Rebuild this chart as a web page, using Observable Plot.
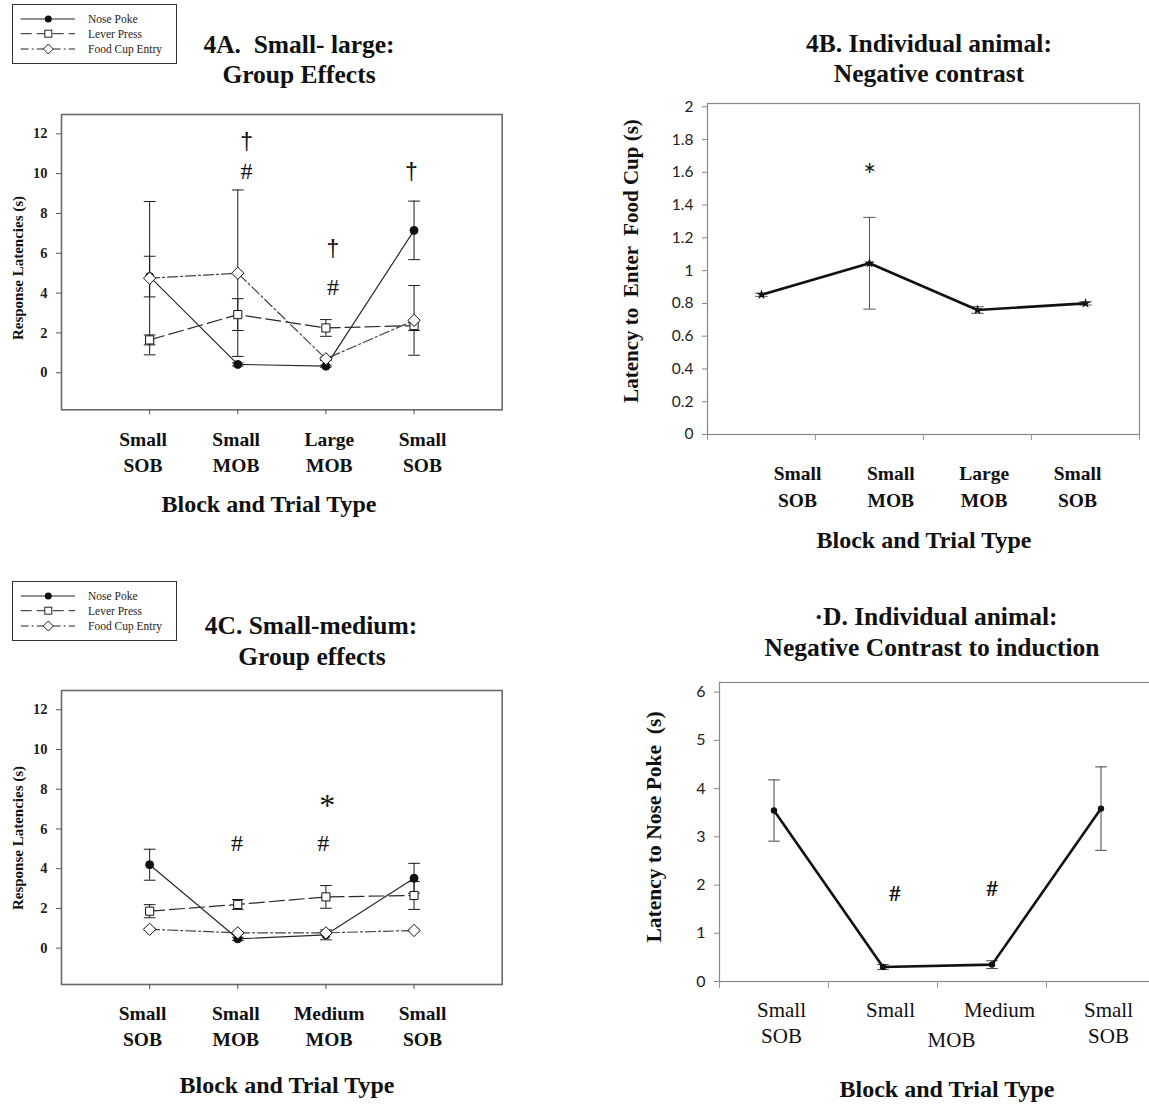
<!DOCTYPE html>
<html>
<head>
<meta charset="utf-8">
<script src="https://cdn.jsdelivr.net/npm/d3@7"></script>
<script src="https://cdn.jsdelivr.net/npm/@observablehq/plot@0.6"></script>
<style>
  html, body { margin: 0; padding: 0; background: #fff; }
  #page { position: relative; width: 1149px; height: 1104px; overflow: hidden; background: #fff; }
  .t { position: absolute; transform: translate(-50%, -50%); white-space: pre; line-height: 1;
       font-family: "Liberation Serif", "Times New Roman", serif; font-weight: bold; color: #111; }
  .yl { position: absolute; transform: translate(-50%, -50%) rotate(-90deg); white-space: pre; line-height: 1;
        font-family: "Liberation Serif", "Times New Roman", serif; font-weight: bold; color: #111; }
</style>
</head>
<body>
<div id="page"></div>
<script>
// ---------------- DATA ----------------
const cats = [1, 2, 3, 4];

// Panel 4A: Small-large, group effects
const aLabels = ["Small\nSOB", "Small\nMOB", "Large\nMOB", "Small\nSOB"];
const aNose = [4.83, 0.42, 0.33, 7.15];
const aNoseSE = [1.02, 0.08, 0.05, 1.47];
const aLever = [1.65, 2.92, 2.25, 2.37];
const aLeverSE = [0.25, 0.80, 0.42, 0.25];
const aFood = [4.75, 5.00, 0.70, 2.63];
const aFoodSE = [3.85, 4.18, 0.08, 1.75];
const aSigText = ["†", "#", "†", "#", "†"];
const aSigX = [2.1, 2.1, 3.08, 3.08, 3.97];
const aSigY = [11.6, 10.1, 6.25, 4.3, 10.1];

// Panel 4B: Individual animal, negative contrast (food cup latency)
const bLabels = ["Small\nSOB", "Small\nMOB", "Large\nMOB", "Small\nSOB"];
const bVals = [0.853, 1.045, 0.76, 0.80];
const bSE = [0.01, 0.28, 0.02, 0.01];
const bTicks = [0, 0.2, 0.4, 0.6, 0.8, 1, 1.2, 1.4, 1.6, 1.8, 2];
const bSigText = ["*"];
const bSigX = [2];
const bSigY = [1.575];

// Panel 4C: Small-medium, group effects
const cLabels = ["Small\nSOB", "Small\nMOB", "Medium\nMOB", "Small\nSOB"];
const cNose = [4.20, 0.47, 0.67, 3.52];
const cNoseSE = [0.78, 0.08, 0.25, 0.75];
const cLever = [1.86, 2.20, 2.58, 2.65];
const cLeverSE = [0.33, 0.25, 0.57, 0.70];
const cFood = [0.95, 0.77, 0.77, 0.89];
const cFoodSE = [0.05, 0.05, 0.05, 0.05];
const cSigText = ["#", "#", "*"];
const cSigX = [1.99, 2.97, 3.015];
const cSigY = [5.26, 5.26, 7.15];

// Panel 4D: Individual animal, negative contrast to induction (nose poke latency)
const dLabels = ["Small\nSOB", "Small", "Medium", "Small\nSOB"];
const dShared = "MOB";
const dVals = [3.545, 0.30, 0.35, 3.585];
const dSE = [0.635, 0.05, 0.08, 0.865];
const dTicks = [0, 1, 2, 3, 4, 5, 6];
const dSigText = ["#", "#"];
const dSigX = [2.11, 3.0];
const dSigY = [1.82, 1.92];

const groupTicks = [0, 2, 4, 6, 8, 10, 12];
const seriesNames = ["Nose Poke", "Lever Press", "Food Cup Entry"];

// ---------------- HELPERS ----------------
const serif = '"Liberation Serif", "Times New Roman", serif';
const sans = 'Lato, "Liberation Sans", sans-serif';
const page = document.getElementById("page");

const capSym = { draw(ctx, size) { const w = Math.sqrt(size) / 2; ctx.moveTo(-w, 0); ctx.lineTo(w, 0); } };
const diamondSym = { draw(ctx, size) { const h = Math.sqrt(size) * 0.62; ctx.moveTo(0, -h); ctx.lineTo(h, 0); ctx.lineTo(0, h); ctx.lineTo(-h, 0); ctx.closePath(); } };

function put(el, left, top) {
  el.style.position = "absolute";
  el.style.left = left + "px";
  el.style.top = top + "px";
  el.style.maxWidth = "none";
  el.style.overflow = "visible";
  page.appendChild(el);
}
function label(cls, str, x, y, size, weight) {
  const d = document.createElement("div");
  d.className = cls;
  d.textContent = str;
  d.style.left = x + "px";
  d.style.top = y + "px";
  d.style.fontSize = size + "px";
  if (weight) d.style.fontWeight = weight;
  page.appendChild(d);
}
// category label row (the figure's labels are laid out on their own, evenly spaced row)
function labelRow(labels, left, width, firstX, lastX, axisY, pad, fontSize, lineHeight) {
  const p = Plot.plot({
    width, height: 100, marginTop: 10, marginBottom: 89,
    marginLeft: firstX - left, marginRight: left + width - lastX,
    x: { domain: [cats[0], cats[cats.length - 1]] },
    style: { background: "transparent", overflow: "visible" },
    marks: [Plot.axisX({ ticks: cats, tickSize: 0, tickPadding: pad, tickFormat: i => labels[i - 1], label: null,
      fontSize, fontWeight: "bold", fontFamily: serif, lineHeight, fill: "#111" })]
  });
  put(p, left, axisY - 11);
}

const seriesStyle = [
  { symbol: "circle", r: 4, fill: "#111", dash: null },
  { symbol: "square", r: 4.6, fill: "#fff", dash: "15,5" },
  { symbol: diamondSym, r: 5.6, fill: "#fff", dash: "10,3,2,3" }
];

function groupPanel(o) {
  const vals = [o.nose, o.lever, o.food];
  const ses = [o.noseSE, o.leverSE, o.foodSE];
  const rows = [];
  vals.forEach((v, k) => v.forEach((y, i) => rows.push({ k, x: cats[i], y, lo: y - ses[k][i], hi: y + ses[k][i] })));
  const caps = rows.flatMap(r => [{ x: r.x, y: r.lo }, { x: r.x, y: r.hi }]);
  const sig = o.sigText.map((t, i) => ({ t, x: o.sigX[i], y: o.sigY[i] }));
  const marks = [
    Plot.frame({ stroke: "#6a6a6a", strokeWidth: 1.6 }),
    Plot.axisY({ ticks: groupTicks, tickSize: 5, tickPadding: 9, label: null, tickFormat: d => String(d), fontSize: 14.5, fontWeight: "bold", fontFamily: serif, stroke: "#555", fill: "#222" }),
    Plot.axisX({ ticks: cats, tickSize: 5, tickFormat: () => "", label: null, stroke: "#555" }),
    Plot.ruleX(rows, { x: "x", y1: "lo", y2: "hi", stroke: "#1a1a1a", strokeWidth: 1 }),
    Plot.dot(caps, { x: "x", y: "y", symbol: capSym, r: 6.6, fill: "none", stroke: "#1a1a1a", strokeWidth: 1 })
  ];
  vals.forEach((v, k) => marks.push(Plot.line(rows.filter(r => r.k === k), {
    x: "x", y: "y", stroke: k === 2 ? "#4a3f3f" : "#2a2a2a", strokeWidth: 1.2, strokeDasharray: seriesStyle[k].dash
  })));
  vals.forEach((v, k) => marks.push(Plot.dot(rows.filter(r => r.k === k), {
    x: "x", y: "y", symbol: seriesStyle[k].symbol, r: seriesStyle[k].r, fill: seriesStyle[k].fill, stroke: "#111", strokeWidth: 1
  })));
  marks.push(Plot.text(sig.filter(s => s.t === "#"), { x: "x", y: "y", text: "t", fontSize: 24, fontFamily: serif, fill: "#111" }));
  marks.push(Plot.text(sig.filter(s => s.t === "†"), { x: "x", y: "y", text: "t", fontSize: 23, fontFamily: '"Liberation Sans", sans-serif', fill: "#111" }));
  marks.push(Plot.text(sig.filter(s => s.t === "*"), { x: "x", y: "y", text: "t", fontSize: 32, fontFamily: serif, fill: "#111" }));
  return Plot.plot({
    width: 512, height: o.h,
    marginLeft: 61, marginRight: 10.3, marginTop: 14, marginBottom: 20,
    x: { domain: [0, 5] },
    y: { domain: o.yDomain },
    style: { background: "transparent", overflow: "visible", fontFamily: serif },
    marks
  });
}

function legend(left, top) {
  const svg = d3.create("svg").attr("width", 168).attr("height", 62);
  svg.append("rect").attr("x", 0.5).attr("y", 0.5).attr("width", 164).attr("height", 59)
    .attr("fill", "#fff").attr("stroke", "#333").attr("stroke-width", 1);
  const rowsY = [15, 29.7, 45];
  const lx1 = 8.7, lx2 = 63, mx = 36.3, tx = 76;
  seriesNames.forEach((name, k) => {
    const y = rowsY[k];
    svg.append("line").attr("x1", lx1).attr("x2", lx2).attr("y1", y).attr("y2", y)
      .attr("stroke", "#222").attr("stroke-width", 1)
      .attr("stroke-dasharray", k === 1 ? "11,5" : k === 2 ? "8,3,2,3" : null);
    if (k === 0) svg.append("circle").attr("cx", mx).attr("cy", y).attr("r", 3.5).attr("fill", "#111");
    if (k === 1) svg.append("rect").attr("x", mx - 3.5).attr("y", y - 3.5).attr("width", 7).attr("height", 7).attr("fill", "#fff").attr("stroke", "#222");
    if (k === 2) svg.append("path").attr("d", `M${mx},${y - 5}L${mx + 5},${y}L${mx},${y + 5}L${mx - 5},${y}Z`).attr("fill", "#fff").attr("stroke", "#222");
    svg.append("text").attr("x", tx).attr("y", y + 4).attr("font-family", serif).attr("font-size", 11.5)
      .attr("fill", "#2a2222").text(name);
  });
  put(svg.node(), left, top);
}

// ---------------- PANEL A ----------------
put(groupPanel({
  nose: aNose, noseSE: aNoseSE, lever: aLever, leverSE: aLeverSE, food: aFood, foodSE: aFoodSE,
  sigText: aSigText, sigX: aSigX, sigY: aSigY, yDomain: [-1.86, 12.97], h: 329.3
}), 0, 100);
labelRow(aLabels, 0, 512, 142.5, 422, 409.3, 19, 19.5, 1.3);
legend(12, 4);
label("t", "4A.  Small- large:", 299, 45, 25.5);
label("t", "Group Effects", 299, 75, 25.5);
label("yl", "Response Latencies (s)", 18, 268, 15);
label("t", "Block and Trial Type", 269, 504, 24);

// ---------------- PANEL C ----------------
put(groupPanel({
  nose: cNose, noseSE: cNoseSE, lever: cLever, leverSE: cLeverSE, food: cFood, foodSE: cFoodSE,
  sigText: cSigText, sigX: cSigX, sigY: cSigY, yDomain: [-1.83, 12.97], h: 328
}), 0, 676);
labelRow(cLabels, 0, 512, 142, 422, 984, 17.5, 19.5, 1.33);
legend(12, 581);
label("t", "4C. Small-medium:", 311, 626, 25.5);
label("t", "Group effects", 312, 657, 25.5);
label("yl", "Response Latencies (s)", 18, 838, 15);
label("t", "Block and Trial Type", 287, 1085, 24);

// ---------------- PANEL B ----------------
{
  const rows = bVals.map((y, i) => ({ x: cats[i], y, lo: y - bSE[i], hi: y + bSE[i] }));
  const caps = rows.flatMap(r => [{ x: r.x, y: r.lo }, { x: r.x, y: r.hi }]);
  const sig = bSigText.map((t, i) => ({ t, x: bSigX[i], y: bSigY[i] }));
  const edges = [0.5, 1.5, 2.5, 3.5, 4.5];
  const p = Plot.plot({
    width: 549, height: 364,
    marginLeft: 107, marginRight: 10, marginTop: 13, marginBottom: 20,
    x: { domain: [0.5, 4.5] },
    y: { domain: [0, 2.02] },
    style: { background: "transparent", overflow: "visible" },
    marks: [
      Plot.frame({ stroke: "#888", strokeWidth: 1.2 }),
      Plot.axisY({ ticks: bTicks, tickFormat: d => String(+d.toFixed(1)), tickSize: 5, tickPadding: 9, label: null, fontSize: 15.5, fontFamily: sans, stroke: "#888", fill: "#222" }),
      Plot.axisX({ ticks: edges, tickSize: 6, tickFormat: () => "", label: null, stroke: "#999" }),
      Plot.ruleX(rows, { x: "x", y1: "lo", y2: "hi", stroke: "#555", strokeWidth: 1 }),
      Plot.dot(caps, { x: "x", y: "y", symbol: capSym, r: 7, fill: "none", stroke: "#555", strokeWidth: 1 }),
      Plot.line(rows, { x: "x", y: "y", stroke: "#111", strokeWidth: 2.6 }),
      Plot.dot(rows, { x: "x", y: "y", symbol: "star", r: 3.2, fill: "#111" }),
      Plot.text(sig, { x: "x", y: "y", text: "t", fontSize: 30, fontFamily: sans, fill: "#111" })
    ]
  });
  put(p, 600, 90);
}
labelRow(bLabels, 600, 549, 797, 1077, 434, 26.3, 19.5, 1.385);
label("t", "4B. Individual animal:", 929, 44, 25.5);
label("t", "Negative contrast", 929, 74, 25.5);
label("yl", "Latency to  Enter  Food Cup (s)", 631, 261, 21);
label("t", "Block and Trial Type", 924, 540, 24);

// ---------------- PANEL D ----------------
{
  const rows = dVals.map((y, i) => ({ x: cats[i], y, lo: y - dSE[i], hi: y + dSE[i] }));
  const caps = rows.flatMap(r => [{ x: r.x, y: r.lo }, { x: r.x, y: r.hi }]);
  const sig = dSigText.map((t, i) => ({ t, x: dSigX[i], y: dSigY[i] }));
  const edges = [0.5, 1.5, 2.5, 3.5, 4.5];
  const p = Plot.plot({
    width: 530, height: 385,
    marginLeft: 89, marginRight: 5, marginTop: 12, marginBottom: 74,
    x: { domain: [0.5, 4.5] },
    y: { domain: [0, 6.2] },
    style: { background: "transparent", overflow: "visible" },
    marks: [
      Plot.frame({ stroke: "#888", strokeWidth: 1.2 }),
      Plot.axisY({ ticks: dTicks, tickFormat: d => String(d), tickSize: 5, tickPadding: 9, label: null, fontSize: 16, fontFamily: sans, stroke: "#888", fill: "#222" }),
      Plot.axisX({ ticks: edges, tickSize: 7, tickFormat: () => "", label: null, stroke: "#999" }),
      Plot.axisX({ ticks: cats, tickSize: 0, tickPadding: 16, dx: 7.5, tickFormat: i => dLabels[i - 1], label: null, fontSize: 21, fontFamily: serif, lineHeight: 1.28, fill: "#111" }),
      Plot.text([dShared], { x: [(cats[1] + cats[2]) / 2], frameAnchor: "bottom", dy: 65, dx: 14, text: d => d, fontSize: 21, fontFamily: serif, fill: "#111" }),
      Plot.ruleX(rows, { x: "x", y1: "lo", y2: "hi", stroke: "#444", strokeWidth: 1 }),
      Plot.dot(caps, { x: "x", y: "y", symbol: capSym, r: 6.5, fill: "none", stroke: "#444", strokeWidth: 1 }),
      Plot.line(rows, { x: "x", y: "y", stroke: "#111", strokeWidth: 2.6 }),
      Plot.dot(rows, { x: "x", y: "y", r: 3.2, fill: "#111" }),
      Plot.text(sig, { x: "x", y: "y", text: "t", fontSize: 22, fontFamily: sans, fill: "#111" })
    ]
  });
  put(p, 630, 670);
}
label("t", "·D. Individual animal:", 936, 617, 25.5);
label("t", "Negative Contrast to induction", 932, 648, 25.5);
label("yl", "Latency to Nose Poke  (s)", 655, 827, 21.5);
label("t", "Block and Trial Type", 947, 1089, 24);
</script>
</body>
</html>
